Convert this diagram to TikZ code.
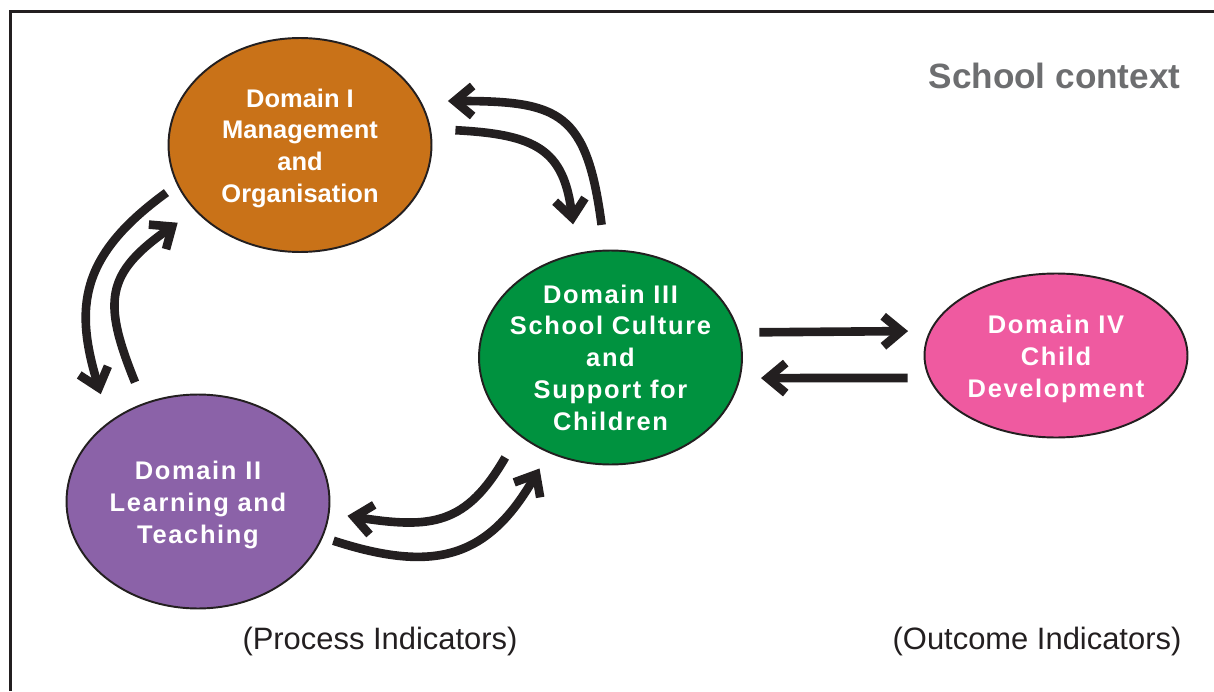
\documentclass[tikz,border=0pt]{standalone}
\usepackage{fontspec}
\setmainfont{Liberation Sans}
\newfontfamily\spacedsans[LetterSpace=6.5]{Liberation Sans}
\usetikzlibrary{shapes.geometric,arrows.meta}
\definecolor{domorange}{RGB}{201,114,24}
\definecolor{dompurple}{RGB}{139,98,168}
\definecolor{domgreen}{RGB}{0,146,63}
\definecolor{dompink}{RGB}{239,90,160}
\definecolor{ctxgray}{RGB}{109,110,112}
\definecolor{ink}{RGB}{35,31,32}
\begin{document}
\begin{tikzpicture}[x=0.02cm,y=0.02cm,
    dombox/.style={ellipse,draw=ink,line width=1.1pt,inner sep=0pt,minimum width=5.26cm,minimum height=4.28cm},
    domtext/.style={text=white,align=center,yshift=-0.065cm,font=\spacedsans\bfseries\fontsize{14.5}{18.1}\selectfont},
    indic/.style={text=ink,font=\fontsize{17.6}{21}\selectfont},
    flow/.style={draw=ink,line width=4.9pt,-{Straight Barb[length=0.36cm,width=0.6cm]}}]
    \useasboundingbox (0,0) rectangle (1214,691);
    \draw[ink,line width=1.4pt] (10.5,0) |- (1214,679.7); % frame
    \node[dombox,fill=domorange] (dom1) at (300,546) {};
    \node[domtext,font=\bfseries\fontsize{14.5}{18.1}\selectfont] (txt1) at (dom1) {Domain I\\Management\\and\\Organisation};
    \node[dombox,fill=dompurple] (dom2) at (198,189.5) {};
    \node[domtext] (txt2) at (dom2) {Domain II\\Learning and\\Teaching};
    \node[dombox,fill=domgreen] (dom3) at (610.5,333.5) {};
    \node[domtext,yshift=0.065cm] (txt3) at (dom3) {Domain III\\School Culture\\and\\Support for\\Children};
    \node[dombox,fill=dompink,minimum height=3.28cm] (dom4) at (1056,335.5) {};
    \node[domtext] (txt4) at (dom4) {Domain IV\\Child\\Development};
    \node[text=ctxgray,font=\bfseries\fontsize{20}{24}\selectfont] (ctx) at (1054.5,615) {School context};
    \node[indic] (proc) at (380,50) {(Process Indicators)};
    \node[indic] (outc) at (1037,50) {(Outcome Indicators)};
    % I <-> III
    \draw[flow,shorten <=0.5cm,shorten >=0.54cm] (dom3.93) to[out=97.5,in=0,looseness=1.5] (dom1.20.6);
    \draw[flow,shorten <=0.49cm,shorten >=0.58cm] (dom1.7.3) to[out=-3,in=97,looseness=1.4] (dom3.108);
    % I <-> II
    \draw[flow,shorten <=0.26cm,shorten >=0.57cm] (dom1.198) to[out=216,in=107,looseness=1.25] (dom2.138);
    \draw[flow,shorten <=0.45cm,shorten >=0.42cm] (dom2.119) to[out=112,in=215,looseness=1.41] (dom1.212);
    % II <-> III
    \draw[flow,shorten <=0.52cm,shorten >=0.36cm] (dom3.220) to[out=240,in=-9,looseness=1.3] (dom2.-5);
    \draw[flow,shorten <=0.22cm,shorten >=0.36cm] (dom2.-16) to[out=-18,in=240,looseness=1.27] (dom3.237);
    % III <-> IV
    \draw[flow,shorten <=0.4cm,shorten >=0.43cm] (dom3.11.3) -- (dom4.169.5);
    \draw[flow,shorten <=0.42cm,shorten >=0.41cm] (dom4.190) -- (dom3.-9);
\end{tikzpicture}
\end{document}
